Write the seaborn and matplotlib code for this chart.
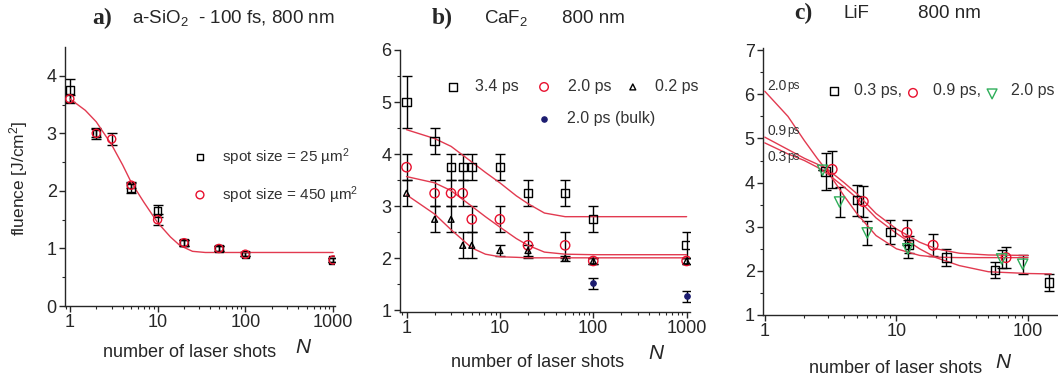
import numpy as np
import matplotlib
matplotlib.use("Agg")
import matplotlib.pyplot as plt
import seaborn as sns

# ---- panel a: a-SiO2, 100 fs ----
a_sq_n = [1, 2, 5, 10, 20, 50, 100, 1000]
a_sq_f = [3.75, 3.0, 2.05, 1.65, 1.1, 1.0, 0.9, 0.8]
a_sq_e = [0.2, 0.1, 0.08, 0.1, 0.05, 0.05, 0.03, 0.03]
a_ci_n = [1, 2, 3, 5, 10, 20, 50, 100, 1000]
a_ci_f = [3.6, 3.0, 2.9, 2.1, 1.5, 1.1, 1.0, 0.9, 0.8]
a_ci_e = [0.07, 0.07, 0.1, 0.05, 0.1, 0.05, 0.05, 0.03, 0.03]
a_fit_n = [1, 1.5, 2, 3, 4, 5, 7, 10, 14, 18, 25, 35, 100, 1000]
a_fit_f = [3.6, 3.4, 3.2, 2.8, 2.45, 2.15, 1.8, 1.45, 1.2, 1.05, 0.95, 0.93, 0.93, 0.93]

# ---- panel b: CaF2, 800 nm ----
b_n = [1, 2, 3, 4, 5, 10, 20, 50, 100, 1000]
b_34_f = [5.0, 4.25, 3.75, 3.75, 3.75, 3.75, 3.25, 3.25, 2.75, 2.25]
b_34_e = [0.5, 0.25, 0.25, 0.25, 0.25, 0.25, 0.25, 0.25, 0.25, 0.25]
b_20_f = [3.75, 3.25, 3.25, 3.25, 2.75, 2.75, 2.25, 2.25, 1.95, 1.95]
b_20_e = [0.25, 0.25, 0.25, 0.25, 0.25, 0.25, 0.25, 0.25, 0.05, 0.05]
b_02_f = [3.25, 2.75, 2.75, 2.25, 2.25, 2.15, 2.15, 2.0, 1.95, 1.95]
b_02_e = [0.25, 0.25, 0.25, 0.25, 0.25, 0.1, 0.1, 0.05, 0.05, 0.05]
b_bulk_n = [100, 1000]
b_bulk_f = [1.52, 1.27]
b_bulk_e = [0.1, 0.1]
b_fit_n = [1, 2, 3, 5, 7, 10, 15, 20, 30, 50, 100, 1000]
b_fit_34 = [4.47, 4.3, 4.15, 3.85, 3.65, 3.45, 3.2, 3.05, 2.87, 2.8, 2.8, 2.8]
b_fit_20 = [3.57, 3.45, 3.3, 3.0, 2.8, 2.6, 2.38, 2.25, 2.12, 2.08, 2.07, 2.07]
b_fit_02 = [3.22, 2.85, 2.55, 2.2, 2.08, 2.03, 2.02, 2.01, 2.01, 2.01, 2.01, 2.01]

# ---- panel c: LiF, 800 nm ----
c_sq_n = [2.9, 5.0, 9.0, 12.5, 24, 56, 145]
c_sq_f = [4.25, 3.6, 2.88, 2.6, 2.3, 2.02, 1.74]
c_sq_e = [0.42, 0.35, 0.27, 0.2, 0.2, 0.18, 0.19]
c_ci_n = [3.25, 5.6, 12.0, 19, 68]
c_ci_f = [4.3, 3.57, 2.87, 2.58, 2.3]
c_ci_e = [0.42, 0.35, 0.28, 0.25, 0.23]
c_tr_n = [2.75, 3.7, 6.0, 12.2, 63, 91]
c_tr_f = [4.28, 3.56, 2.86, 2.5, 2.27, 2.15]
c_tr_e = [0.0, 0.35, 0.28, 0.2, 0.2, 0.21]
c_fit_n = [1, 1.5, 2, 2.5, 3, 4, 5, 7, 10, 15, 20, 30, 50, 100]
c_fit_03 = [4.9, 4.65, 4.5, 4.35, 4.2, 3.9, 3.65, 3.2, 2.85, 2.5, 2.3, 2.12, 1.98, 1.94]
c_fit_09 = [5.03, 4.75, 4.55, 4.42, 4.3, 4.0, 3.75, 3.3, 2.95, 2.65, 2.5, 2.4, 2.36, 2.35]
c_fit_20 = [6.07, 5.5, 4.95, 4.55, 4.25, 3.7, 3.3, 2.8, 2.5, 2.35, 2.31, 2.3, 2.3, 2.3]
c_fit_tail_n = [100, 150]
c_fit_tail_03 = [1.94, 1.93]

sns.set_style("ticks")
plt.rcParams['font.family'] = ['Liberation Sans', 'DejaVu Sans']
plt.rcParams['mathtext.fontset'] = 'custom'
plt.rcParams['mathtext.rm'] = 'Liberation Sans'
plt.rcParams['mathtext.it'] = 'Liberation Sans:italic'
plt.rcParams['axes.linewidth'] = 1.0

RED_LINE = '#e23a50'
RED_MK = '#e8102e'
GREEN = '#2fae5a'
NAVY = '#1c1c70'
TXT = '#333333'

fig = plt.figure(figsize=(10.58, 3.84), dpi=100)
ax_a = fig.add_axes([0.0614, 0.2031, 0.2552, 0.6745])
ax_b = fig.add_axes([0.378, 0.1875, 0.2741, 0.6823])
ax_c = fig.add_axes([0.7212, 0.1797, 0.2779, 0.6953])


def bars(ax, x, y, e):
    ax.errorbar(x, y, yerr=e, fmt='none', ecolor='black', elinewidth=1.0,
                capsize=3.5, capthick=1.0, zorder=2)


def pts(ax, x, y, marker, color, size, filled=False):
    if filled:
        sns.scatterplot(x=x, y=y, marker=marker, s=size, color=color,
                        edgecolor=color, linewidth=0.8, ax=ax, zorder=4)
    else:
        sns.scatterplot(x=x, y=y, marker=marker, s=size, facecolor='none',
                        edgecolor=color, linewidth=1.0, ax=ax, zorder=4)


def curve(ax, x, y):
    sns.lineplot(x=x, y=y, color=RED_LINE, linewidth=1.0, ax=ax, zorder=3,
                 errorbar=None)


def style(ax, ylim, yticks, xlim):
    ax.set_xscale('log')
    ax.set_xlim(*xlim)
    ax.set_ylim(*ylim)
    ax.set_yticks(yticks)
    ax.set_yticks(np.arange(yticks[0], yticks[-1] + 0.01, 0.5), minor=True)
    ax.tick_params(axis='both', which='major', direction='out', length=4,
                   width=1, labelsize=13, pad=2)
    ax.tick_params(axis='both', which='minor', direction='out', length=2.5,
                   width=0.8)
    ax.xaxis.set_major_formatter(matplotlib.ticker.FuncFormatter(
        lambda v, p: f"{v:g}"))
    sns.despine(ax=ax)
    ax.set_xlabel('')
    ax.set_ylabel('')


# panel a
bars(ax_a, a_sq_n, a_sq_f, a_sq_e)
bars(ax_a, a_ci_n, a_ci_f, a_ci_e)
curve(ax_a, a_fit_n, a_fit_f)
pts(ax_a, a_sq_n, a_sq_f, 's', 'black', 28)
pts(ax_a, a_ci_n, a_ci_f, 'o', RED_MK, 34)
style(ax_a, (0, 4.5), [0, 1, 2, 3, 4], (0.88, 1050))

ax_a.scatter([0.5], [0.575], marker='s', s=24, facecolor='none',
             edgecolor='black', transform=ax_a.transAxes, clip_on=False)
ax_a.text(0.581, 0.575, 'spot size = 25 µm$^2$', transform=ax_a.transAxes,
          fontsize=11, color=TXT, va='center')
ax_a.scatter([0.5], [0.429], marker='o', s=32, facecolor='none',
             edgecolor=RED_MK, transform=ax_a.transAxes, clip_on=False)
ax_a.text(0.581, 0.429, 'spot size = 450 µm$^2$', transform=ax_a.transAxes,
          fontsize=11, color=TXT, va='center')

# panel b
bars(ax_b, b_n, b_34_f, b_34_e)
bars(ax_b, b_n, b_20_f, b_20_e)
bars(ax_b, b_n, b_02_f, b_02_e)
bars(ax_b, b_bulk_n, b_bulk_f, b_bulk_e)
curve(ax_b, b_fit_n, b_fit_34)
curve(ax_b, b_fit_n, b_fit_20)
curve(ax_b, b_fit_n, b_fit_02)
pts(ax_b, b_n, b_34_f, 's', 'black', 36)
pts(ax_b, b_n, b_20_f, 'o', RED_MK, 45)
pts(ax_b, b_n, b_02_f, '^', 'black', 18)
pts(ax_b, b_bulk_n, b_bulk_f, 'o', NAVY, 16, filled=True)
style(ax_b, (0.97, 6.0), [1, 2, 3, 4, 5, 6], (0.85, 1085))

lb = [(0.183, 0.859, 's', 'black', 30, 0.259, '3.4 ps', False),
      (0.497, 0.859, 'o', RED_MK, 38, 0.579, '2.0 ps', False),
      (0.803, 0.859, '^', 'black', 18, 0.879, '0.2 ps', False),
      (0.497, 0.737, 'o', NAVY, 14, 0.576, '2.0 ps (bulk)', True)]
for mx, my, m, col, s, tx, lab, fill in lb:
    ax_b.scatter([mx], [my], marker=m, s=s,
                 facecolor=col if fill else 'none', edgecolor=col,
                 transform=ax_b.transAxes, clip_on=False)
    ax_b.text(tx, my, lab, transform=ax_b.transAxes, fontsize=11.5,
              color=TXT, va='center')

# panel c
bars(ax_c, c_sq_n, c_sq_f, c_sq_e)
bars(ax_c, c_ci_n, c_ci_f, c_ci_e)
bars(ax_c, c_tr_n, c_tr_f, c_tr_e)
curve(ax_c, c_fit_n, c_fit_03)
curve(ax_c, c_fit_tail_n, c_fit_tail_03)
curve(ax_c, c_fit_n, c_fit_09)
curve(ax_c, c_fit_n, c_fit_20)
pts(ax_c, c_sq_n, c_sq_f, 's', 'black', 36)
pts(ax_c, c_ci_n, c_ci_f, 'o', RED_MK, 48)
pts(ax_c, c_tr_n, c_tr_f, 'v', GREEN, 55)
style(ax_c, (1, 7.05), [1, 2, 3, 4, 5, 6, 7], (0.97, 166))

lc = [(0.241, 0.839, 's', 'black', 30, 0.31, '0.3 ps,'),
      (0.51, 0.832, 'o', RED_MK, 38, 0.578, '0.9 ps,'),
      (0.779, 0.828, 'v', GREEN, 50, 0.844, '2.0 ps')]
for mx, my, m, col, s, tx, lab in lc:
    ax_c.scatter([mx], [my], marker=m, s=s, facecolor='none', edgecolor=col,
                 transform=ax_c.transAxes, clip_on=False)
    ax_c.text(tx, 0.839, lab, transform=ax_c.transAxes, fontsize=11.5,
              color=TXT, va='center')
for yy, num in [(0.858, '2.0'), (0.689, '0.9'), (0.592, '0.3')]:
    ax_c.text(0.014, yy, num, transform=ax_c.transAxes, fontsize=10,
              color=TXT, va='center')
    ax_c.text(0.082, yy, 'ps', transform=ax_c.transAxes, fontsize=8.5,
              color=TXT, va='center')

# titles
fig.text(0.087, 0.953, 'a)', family='Liberation Serif', fontsize=17,
         fontweight='bold', va='center')
fig.text(0.125, 0.953, 'a-SiO$_2$  - 100 fs, 800 nm', fontsize=13.5,
         va='center')
fig.text(0.408, 0.953, 'b)', family='Liberation Serif', fontsize=17,
         fontweight='bold', va='center')
fig.text(0.457, 0.953, 'CaF$_2$', fontsize=13.5, va='center')
fig.text(0.531, 0.953, '800 nm', fontsize=13.5, va='center')
fig.text(0.751, 0.966, 'c)', family='Liberation Serif', fontsize=17,
         fontweight='bold', va='center')
fig.text(0.797, 0.966, 'LiF', fontsize=13.5, va='center')
fig.text(0.868, 0.966, '800 nm', fontsize=13.5, va='center')

# axis labels
fig.text(0.018, 0.536, 'fluence [J/cm$^2$]', rotation=90, fontsize=12.5,
         ha='center', va='center')
for cx, cy, nx, ny in [(0.179, 0.081, 0.286, 0.094),
                       (0.508, 0.055, 0.62, 0.08),
                       (0.846, 0.041, 0.948, 0.057)]:
    fig.text(cx, cy, 'number of laser shots', fontsize=13, ha='center',
             va='center')
    fig.text(nx, ny, 'N', fontsize=15, style='italic', ha='center',
             va='center')

plt.savefig('out.png', dpi=100)
